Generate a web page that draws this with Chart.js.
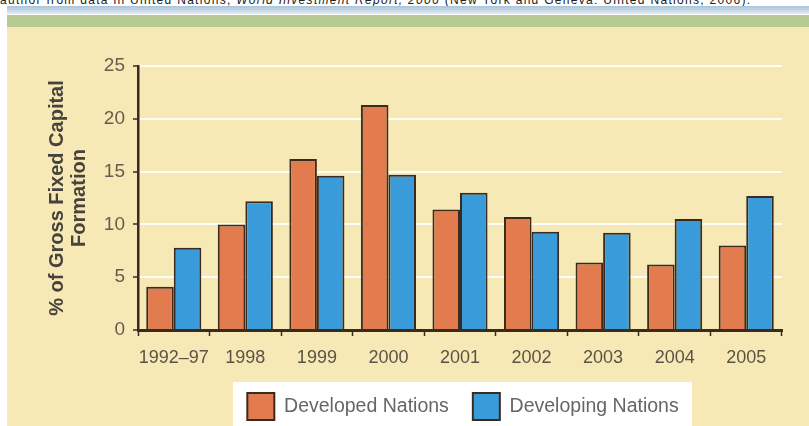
<!DOCTYPE html>
<html>
<head>
<meta charset="utf-8">
<style>
    body { margin: 0; width: 809px; height: 426px; overflow: hidden; background: #fff; position: relative; font-family: "Liberation Sans", Arial, sans-serif; }
    /* source line, cut off by the top edge like in the scan */
    #source { position: absolute; left: 0; top: -6px; font-size: 12px; line-height: 12px; letter-spacing: 1.3px; color: #222; white-space: nowrap; }
    #rule { position: absolute; left: 7px; right: 0; top: 6px; height: 8px; background: linear-gradient(#a9c3da, #e3ecf0); }
    #band { position: absolute; left: 7px; right: 0; top: 15px; height: 12px; background: #b8ca93; }
    #panel { position: absolute; left: 7px; right: 0; top: 27px; bottom: 0; background: #f7e9b5; }
    #legendBox { position: absolute; left: 233px; top: 382px; width: 459px; bottom: 0; background: #fff; }
    #chart { position: absolute; left: 0; top: 0; }
</style>
<script src="https://cdn.jsdelivr.net/npm/chart.js"></script>
</head>
<body>
<div id="source">author from data in United Nations, <i>World Investment Report, 2006</i> (New York and Geneva: United Nations, 2006).</div>
<div id="rule"></div>
<div id="band"></div>
<div id="panel"></div>
<div id="legendBox"></div>
<canvas id="chart" width="809" height="426"></canvas>
<script>
    // values (% of gross fixed capital formation)
    const categories = ['1992–97', '1998', '1999', '2000', '2001', '2002', '2003', '2004', '2005'];
    const developed = [4.1, 10.0, 16.2, 21.3, 11.4, 10.7, 6.4, 6.2, 8.0];
    const developing = [7.8, 12.2, 14.6, 14.7, 13.0, 9.3, 9.2, 10.5, 12.7];
    const yTicks = [0, 5, 10, 15, 20, 25];
    const yTitle = ['% of Gross Fixed Capital', 'Formation'];

    const ink = '#3b2a1e';

    // move the legend under the white box (legend is centred on full width otherwise)
    const legendShift = {
        id: 'legendShift',
        afterLayout(chart) {
            const l = chart.legend;
            l.left += 72; l.right += 72;
            l.top += 4; l.bottom += 4;
        }
    };

    new Chart(document.getElementById('chart'), {
        type: 'bar',
        data: {
            labels: categories,
            datasets: [{
                label: 'Developed Nations',
                data: developed,
                backgroundColor: '#e27c4e',
                borderColor: ink,
                borderWidth: 2,
                categoryPercentage: 0.77,
                barPercentage: 1
            }, {
                label: 'Developing Nations',
                data: developing,
                backgroundColor: '#3a9bdb',
                borderColor: ink,
                borderWidth: 2,
                categoryPercentage: 0.77,
                barPercentage: 1
            }]
        },
        options: {
            responsive: false,
            animation: false,
            layout: { padding: { top: 66, right: 27, bottom: 0, left: 0 } },
            plugins: {
                legend: {
                    position: 'bottom',
                    labels: { boxWidth: 27, boxHeight: 27, padding: 24, color: '#666', font: { family: 'Liberation Sans', size: 19.5 } }
                },
                tooltip: { enabled: false }
            },
            scales: {
                x: {
                    grid: { offset: true, drawOnChartArea: false, tickLength: 6, tickColor: ink, tickWidth: 1.5 },
                    border: { color: ink, width: 3 },
                    ticks: { color: '#5a5346', font: { family: 'Liberation Sans', size: 18 }, padding: 11, maxRotation: 0, autoSkip: false },
                    afterFit: s => { s.height = 35; }
                },
                y: {
                    min: 0,
                    max: 25,
                    afterBuildTicks: s => { s.ticks = yTicks.map(v => ({ value: v })); },
                    grid: {
                        color: c => c.tick && c.tick.value === 0 ? 'rgba(0,0,0,0)' : 'rgba(255,255,255,0.9)',
                        lineWidth: 2,
                        tickLength: 5,
                        tickColor: ink,
                        tickWidth: 1.5
                    },
                    border: { color: ink, width: 2.5 },
                    ticks: { color: '#655d4c', font: { family: 'Liberation Sans', size: 19 }, padding: 8 },
                    title: {
                        display: true,
                        text: yTitle,
                        color: '#47423c',
                        font: { family: 'Liberation Sans', size: 20, weight: 'bold', lineHeight: 1.1 },
                        padding: { top: 46, bottom: 0 }
                    },
                    afterFit: s => { s.width = 138; }
                }
            }
        },
        plugins: [legendShift]
    });
</script>
</body>
</html>
